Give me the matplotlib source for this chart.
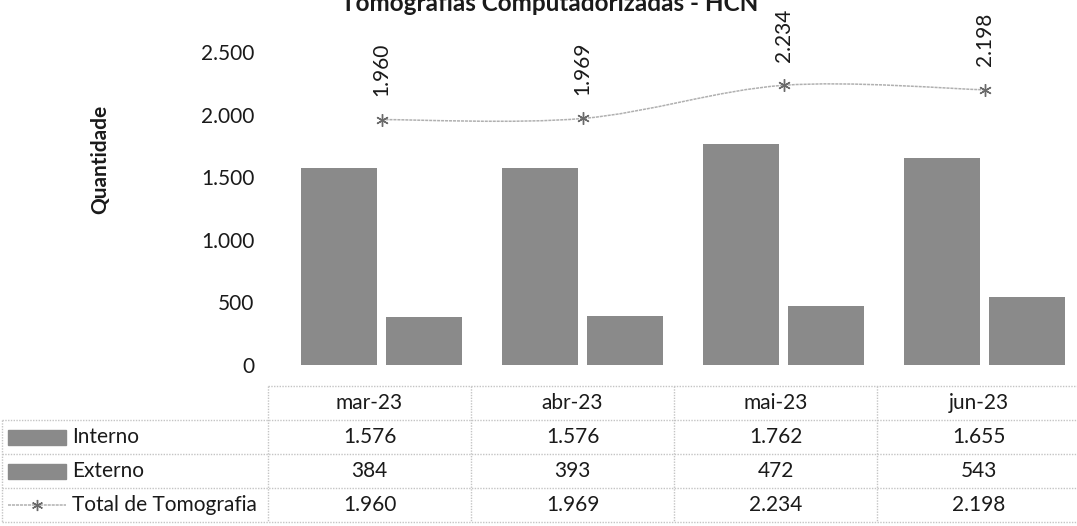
import matplotlib
matplotlib.use('Agg')
import matplotlib.pyplot as plt
import numpy as np
from matplotlib.path import Path
from matplotlib.patches import PathPatch, Rectangle

# ---- data ----
categories = ['mar-23', 'abr-23', 'mai-23', 'jun-23']
interno = [1576, 1576, 1762, 1655]
externo = [384, 393, 472, 543]
total = [1960, 1969, 2234, 2198]
series_names = ['Interno', 'Externo', 'Total de Tomografia']
yticks = [0, 500, 1000, 1500, 2000, 2500]
title = 'Tomografias Computadorizadas - HCN'
ylabel = 'Quantidade'


def fmt(v):
    return f'{v:,}'.replace(',', '.')


plt.rcParams['font.family'] = ['Lato', 'DejaVu Sans']
W, H = 1077, 526
fig = plt.figure(figsize=(W / 100, H / 100), dpi=100)

BAR = '#8a8a8a'
LINE = '#b0b0b0'
MARK = '#6a6a6a'
GRID = '#c4c4c4'
TXT = '#1a1a1a'
FS = 15

# ---- chart axes ----
x0, x1 = 281, 1085
ytop, ybot = 52, 365
ax = fig.add_axes([x0 / W, 1 - ybot / H, (x1 - x0) / W, (ybot - ytop) / H])
x = np.arange(len(categories))
bw = 0.378
ax.bar(x - 0.21, interno, bw, color=BAR, zorder=2)
ax.bar(x + 0.21, externo, bw, color=BAR, zorder=2)

# smoothed total line (Bezier through the data points)
pts = np.column_stack([x, total]).astype(float)
ext = np.vstack([pts[0], pts, pts[-1]])
verts = [tuple(pts[0])]
codes = [Path.MOVETO]
for i in range(len(pts) - 1):
    p0, p1, p2, p3 = ext[i], ext[i + 1], ext[i + 2], ext[i + 3]
    c1 = p1 + (p2 - p0) / 6
    c2 = p2 - (p3 - p1) / 6
    verts += [tuple(c1), tuple(c2), tuple(p2)]
    codes += [Path.CURVE4] * 3
ax.add_patch(PathPatch(Path(verts, codes), facecolor='none', edgecolor=LINE,
                       lw=1.1, ls=(0, (2, 0.6)), zorder=3, clip_on=False))
ax.plot(x, total, ls='none', marker=(6, 2, 0), ms=9, mew=1.0, color=MARK,
        zorder=4, clip_on=False)
for xi, v in zip(x, total):
    ax.annotate(fmt(v), (xi, v), xytext=(0, 17), textcoords='offset points',
                rotation=90, ha='center', va='bottom', fontsize=FS, color=TXT,
                annotation_clip=False)

ax.set_xlim(-0.5, len(categories) - 0.5)
ax.set_ylim(0, 2500)
ax.set_yticks(yticks)
ax.set_yticklabels([fmt(t) for t in yticks], fontsize=FS, color=TXT)
ax.tick_params(axis='y', length=0, pad=19)
ax.set_xticks([])
for s in ax.spines.values():
    s.set_visible(False)

fig.text(100 / W, 1 - 159 / H, ylabel, rotation=90, ha='center', va='center',
         fontsize=15, fontweight='bold', color=TXT)
fig.text(550 / W, 1 - 11 / H, title, ha='center', va='baseline',
         fontsize=17.5, fontweight='bold', color=TXT)

# ---- data table ----
tax = fig.add_axes([0, 0, 1, 1])
tax.set_xlim(0, W)
tax.set_ylim(H, 0)
tax.axis('off')
cols = [268, 471, 674, 877, 1080]
rows = [386, 420, 454, 488, 522]
lkw = dict(color=GRID, lw=1.0, ls=(0, (1, 1)))
tax.plot([cols[0], cols[-1]], [rows[0], rows[0]], **lkw)
for r in rows[1:]:
    tax.plot([2, cols[-1]], [r, r], **lkw)
tax.plot([2, 2], [rows[1], rows[-1]], **lkw)
for c in cols[:-1]:
    tax.plot([c, c], [rows[0], rows[-1]], **lkw)

for j, cat in enumerate(categories):
    cx = (cols[j] + cols[j + 1]) / 2
    tax.text(cx, (rows[0] + rows[1]) / 2, cat, ha='center', va='center',
             fontsize=FS, color=TXT)
for i, vals in enumerate([interno, externo, total]):
    cy = (rows[i + 1] + rows[i + 2]) / 2
    for j, v in enumerate(vals):
        cx = (cols[j] + cols[j + 1]) / 2
        tax.text(cx, cy, fmt(v), ha='center', va='center', fontsize=FS, color=TXT)
    tax.text(72, cy, series_names[i], ha='left', va='center', fontsize=FS, color=TXT)
    if i < 2:
        tax.add_patch(Rectangle((8, cy - 7), 58, 15, color=BAR))
    else:
        tax.plot([8, 66], [cy, cy], color=LINE, lw=1.1, ls=(0, (2, 0.6)))
        tax.plot([37], [cy], ls='none', marker=(6, 2, 0), ms=8, mew=1.0, color=MARK)

fig.savefig('out.png', dpi=100)
